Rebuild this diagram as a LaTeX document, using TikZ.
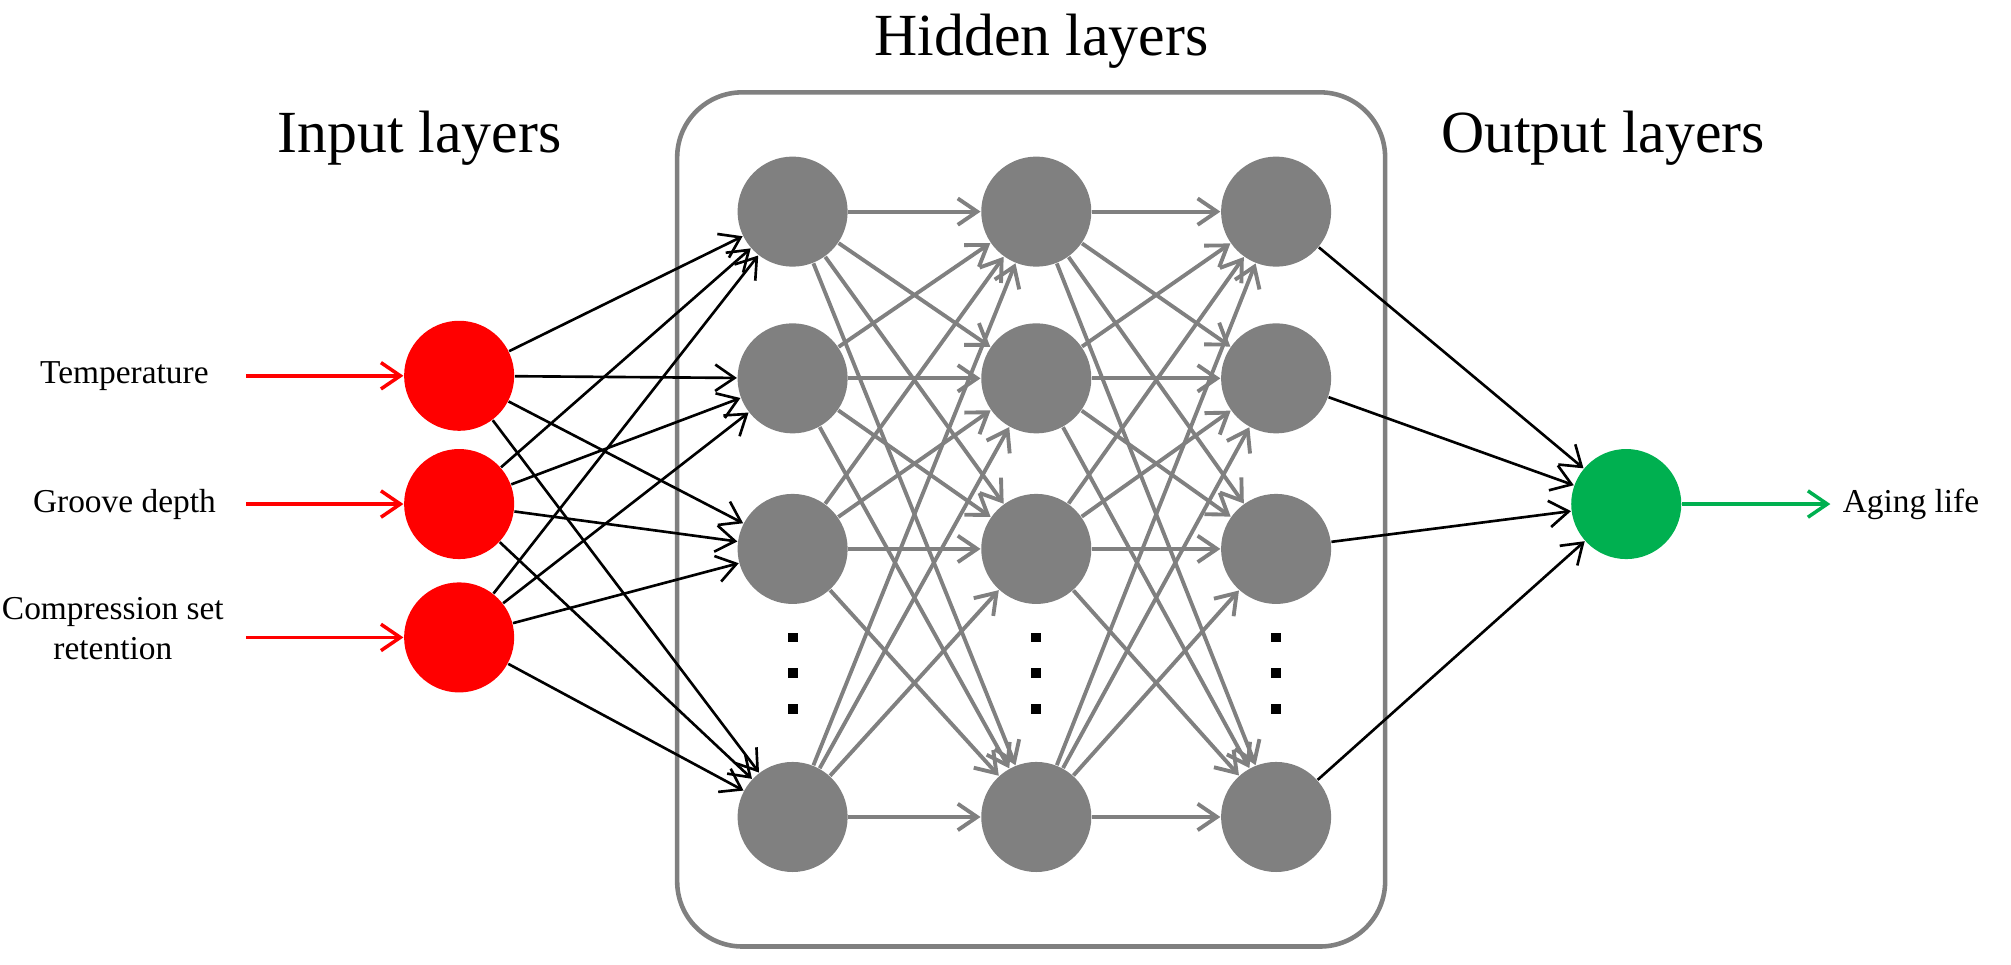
\documentclass[tikz,border=0pt]{standalone}
\usepackage{fontspec}
\setmainfont{Liberation Serif}
\usetikzlibrary{arrows.meta}
\definecolor{hgray}{RGB}{128,128,128}
\definecolor{ired}{RGB}{255,0,0}
\definecolor{ogreen}{RGB}{0,176,80}
\begin{document}
\begin{tikzpicture}[x=0.012825cm,y=-0.012825cm,
  neu/.style={circle,minimum size=1.1cm,inner sep=0,draw=none},
  tip/.style={-{Straight Barb[length=5.5pt,width=7.5pt]}},
  blk/.style={tip,black,line width=0.75pt},
  gry/.style={tip,hgray,line width=1.1pt},
  lab/.style={font=\fontsize{9.5}{11.5}\selectfont,align=center},
  ttl/.style={font=\fontsize{17}{20}\selectfont}]
\useasboundingbox (0,0) rectangle (1568,752);
\draw[hgray,line width=1.3pt,rounded corners=0.65cm] (528,72) rectangle (1080,738);
\node[ttl] (th) at (812,32) {Hidden layers};
\node[ttl] (ti) at (327,108) {Input layers};
\node[ttl] (to) at (1250,108) {Output layers};
\foreach \i/\y in {1/293,2/393,3/497} \node[neu,fill=ired] (i\i) at (358,\y) {};
\foreach \c/\x in {1/618,2/808,3/995}{
  \foreach \r/\y in {1/165,2/295,3/428,4/637} \node[neu,fill=hgray] (h\c\r) at (\x,\y) {};
  \foreach \d/\y in {1/497,2/525,3/553} \node[fill=black,minimum size=2.8pt,inner sep=0] (d\c\d) at (\x,\y) {};
}
\node[neu,fill=ogreen] (o) at (1268,393) {};
\node[lab] (lt) at (97,293) {Temperature};
\node[lab] (lg) at (97,393) {Groove depth};
\node[lab] (lc) at (88,490) {Compression set\\retention};
\node[lab] (la) at (1490,393) {Aging life};
\coordinate (a1) at (192,293); \coordinate (a2) at (192,393); \coordinate (a3) at (192,497);
\foreach \i in {1,2,3} \draw[tip,ired,line width=1pt] (a\i) -- (i\i);
\draw[tip,ogreen,line width=1pt] (o) -- (la);
\foreach \i in {1,2,3} \foreach \r in {1,2,3,4} \draw[blk] (i\i) -- (h1\r);
\foreach \a in {1,2,3,4} \foreach \b in {1,2,3,4} {\draw[gry] (h1\a) -- (h2\b); \draw[gry] (h2\a) -- (h3\b);}
\foreach \r in {1,2,3,4} \draw[blk] (h3\r) -- (o);
\end{tikzpicture}
\end{document}
